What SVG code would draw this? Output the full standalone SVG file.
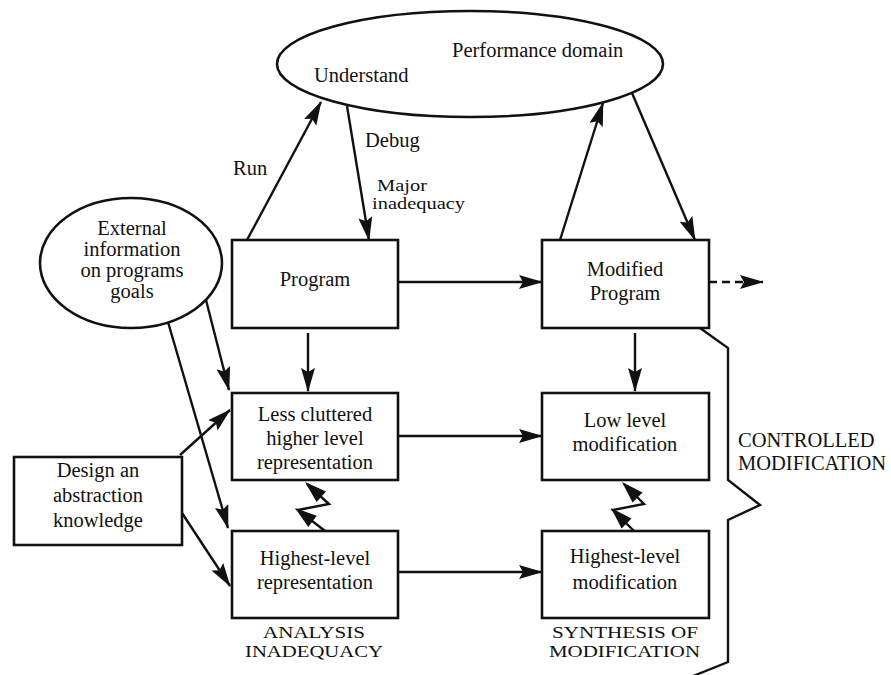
<svg xmlns="http://www.w3.org/2000/svg" width="891" height="675" viewBox="0 0 891 675">
<defs>
<marker id="ah" markerUnits="userSpaceOnUse" markerWidth="24" markerHeight="14" refX="23" refY="7" orient="auto">
<path d="M0,0 L24,7 L0,14 L4,7 z" fill="#111"/>
</marker>
</defs>
<style>
.b{fill:#fff;stroke:#111;stroke-width:2.6}
.c{fill:none;stroke:#111;stroke-width:2.4}
.a{fill:none;stroke:#111;stroke-width:2.4;marker-end:url(#ah)}
text{font-family:"Liberation Serif","Times New Roman",serif;font-size:20.5px;fill:#111}
.m{text-anchor:middle}
.s{font-size:16.5px}
</style>
<rect width="891" height="675" fill="#fff"/>

<g id="connectors">
<line class="a" x1="247" y1="240" x2="321" y2="102"/>
<line class="a" x1="347" y1="106" x2="369" y2="240"/>
<line class="a" x1="560" y1="240" x2="603" y2="103"/>
<line class="a" x1="632" y1="93" x2="695" y2="240"/>
<line class="a" x1="398" y1="282" x2="542" y2="282"/>
<line class="a" x1="709" y1="282" x2="763" y2="282" stroke-dasharray="8,5"/>
<line class="a" x1="308" y1="333" x2="308" y2="391"/>
<line class="a" x1="635" y1="333" x2="635" y2="391"/>
<line class="a" x1="398" y1="436" x2="542" y2="436"/>
<line class="a" x1="398" y1="572" x2="542" y2="572"/>
<line class="a" x1="206" y1="300" x2="229" y2="390"/>
<line class="a" x1="168" y1="322" x2="228" y2="528"/>
<line class="a" x1="180" y1="455" x2="230" y2="410"/>
<line class="a" x1="180" y1="510" x2="230" y2="586"/>
<!-- zigzag arrows -->
<polyline class="c" points="325,531 298,510 329,504 307,484"/>
<path d="M295,508 L316.7,515.7 L308.3,526.9 z M305,482 L326,491.6 L316.6,502 z" fill="#111"/>
<polyline class="c" points="634,531 613,510 644,504 624,484"/>
<path d="M611,508 L631.5,518.6 L621.6,528.5 z M622,482 L642.5,492.6 L632.6,502.5 z" fill="#111"/>
<!-- brace -->
<polyline class="c" points="700,328 728,348 728,480 760,505 728,520 728,662 693,676"/>
</g>

<g id="performance-domain">
<ellipse class="b" cx="470" cy="64" rx="193" ry="53"/>
<text x="452" y="57">Performance domain</text>
<text x="314" y="82">Understand</text>
</g>

<g id="labels">
<text x="233" y="175">Run</text>
<text x="365" y="147">Debug</text>
<text class="s" x="377" y="191" textLength="50" lengthAdjust="spacingAndGlyphs">Major</text>
<text class="s" x="372" y="209" textLength="93" lengthAdjust="spacingAndGlyphs">inadequacy</text>
</g>

<g id="external-info">
<ellipse class="b" cx="131" cy="263" rx="91" ry="65"/>
<text class="m" x="132" y="235">External</text>
<text class="m" x="132" y="256">information</text>
<text class="m" x="132" y="277">on programs</text>
<text class="m" x="132" y="298">goals</text>
</g>

<g id="program">
<rect class="b" x="232" y="240" width="166" height="88"/>
<text class="m" x="315" y="286">Program</text>
</g>

<g id="modified-program">
<rect class="b" x="542" y="240" width="167" height="88"/>
<text class="m" x="625" y="276">Modified</text>
<text class="m" x="625" y="300">Program</text>
</g>

<g id="less-cluttered">
<rect class="b" x="232" y="393" width="166" height="87"/>
<text class="m" x="315" y="421">Less cluttered</text>
<text class="m" x="315" y="445">higher level</text>
<text class="m" x="315" y="469">representation</text>
</g>

<g id="low-level-mod">
<rect class="b" x="542" y="393" width="167" height="87"/>
<text class="m" x="625" y="427">Low level</text>
<text class="m" x="625" y="451">modification</text>
</g>

<g id="highest-level-rep">
<rect class="b" x="232" y="531" width="166" height="87"/>
<text class="m" x="315" y="565">Highest-level</text>
<text class="m" x="315" y="589">representation</text>
</g>

<g id="highest-level-mod">
<rect class="b" x="542" y="531" width="167" height="87"/>
<text class="m" x="625" y="563">Highest-level</text>
<text class="m" x="625" y="589">modification</text>
</g>

<g id="design-abstraction">
<rect class="b" x="14" y="457" width="168" height="88"/>
<text class="m" x="98" y="477">Design an</text>
<text class="m" x="98" y="502">abstraction</text>
<text class="m" x="98" y="527">knowledge</text>
</g>

<g id="section-labels">
<text class="s" x="263" y="638" textLength="102" lengthAdjust="spacingAndGlyphs">ANALYSIS</text>
<text class="s" x="245" y="657" textLength="138" lengthAdjust="spacingAndGlyphs">INADEQUACY</text>
<text class="s" x="552" y="638" textLength="146" lengthAdjust="spacingAndGlyphs">SYNTHESIS OF</text>
<text class="s" x="549" y="657" textLength="151" lengthAdjust="spacingAndGlyphs">MODIFICATION</text>
<text x="738" y="447">CONTROLLED</text>
<text x="738" y="470">MODIFICATION</text>
</g>
</svg>
